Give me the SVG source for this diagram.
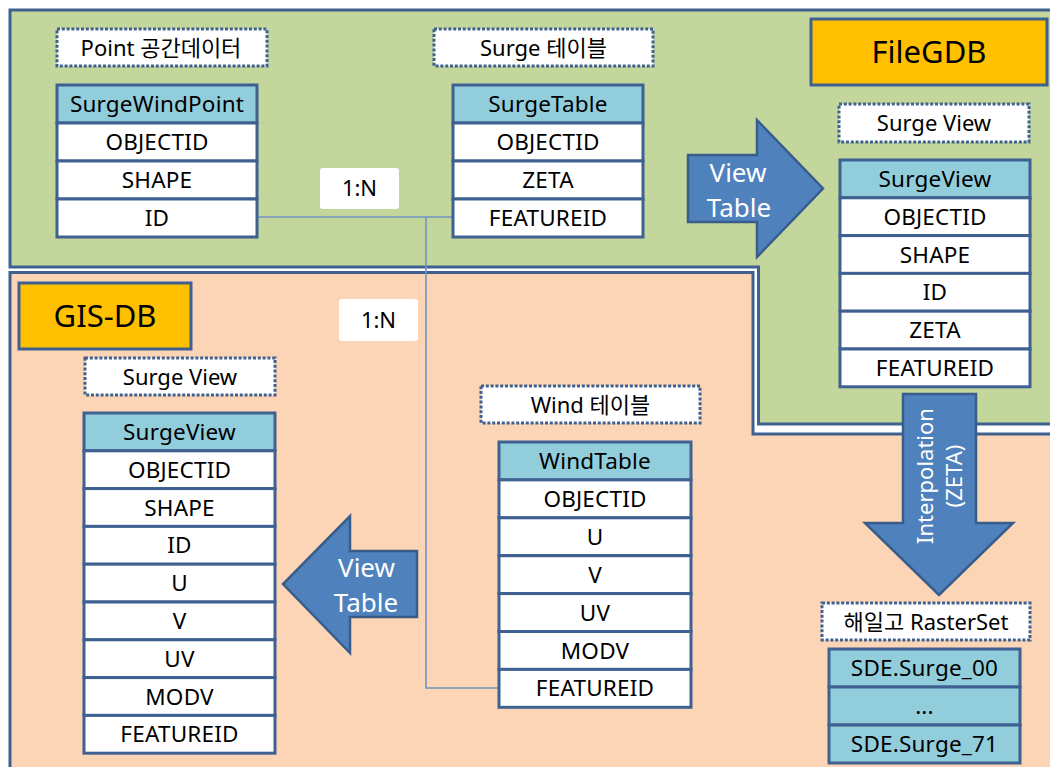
<svg xmlns="http://www.w3.org/2000/svg" width="1050" height="767" viewBox="0 0 1050 767">
  <style>
    text { font-family: "Noto Sans", "Noto Sans CJK KR", sans-serif; fill: #000; }
    .region { stroke: #3f6191; stroke-width: 3; }
    .green { fill: #c3d69b; }
    .peach { fill: #fbd5b5; }
    .title { fill: #ffc000; stroke: #3f6191; stroke-width: 3; }
    .title-text { font-size: 31px; text-anchor: middle; }
    .tag { fill: #fff; stroke: #3f6191; stroke-width: 3; stroke-dasharray: 3 1.8; }
    .tag-text { font-size: 22px; text-anchor: middle; }
    .row { fill: #fff; stroke: #3f6191; stroke-width: 3; }
    .head { fill: #92cddc; stroke: #3f6191; stroke-width: 3; }
    .cell { font-size: 22.5px; text-anchor: middle; letter-spacing: 0.2px; }
    .arrow { fill: #4f81bd; stroke: #385d8a; stroke-width: 2.5; stroke-linejoin: miter; }
    .arrow-text { font-size: 26px; fill: #fff; text-anchor: middle; }
    .interp-text { font-size: 22px; fill: #fff; text-anchor: middle; }
    .link { fill: none; stroke: #7093c3; stroke-width: 1.6; }
    .card { fill: #fff; }
    .card-text { font-size: 22px; text-anchor: middle; }
  </style>

  <rect x="0" y="0" width="1050" height="767" fill="#fff"/>

  <!-- FileGDB area (L-shaped) -->
  <g id="area-filegdb">
    <path class="region green" d="M10,10 H1056 V424 H758.5 V267 H10 Z"/>
  </g>

  <!-- GIS-DB area -->
  <g id="area-gisdb">
    <path class="region peach" d="M10,272.5 H753 V434 H1056 V775 H10 Z"/>
  </g>

  <!-- relationship lines -->
  <g id="connectors">
    <path class="link" d="M257,217 H453"/>
    <path class="link" d="M426,217 V688 H499"/>
  </g>

  <g id="rel-label-1">
    <rect class="card" x="320" y="168" width="79" height="41" rx="3"/>
    <text class="card-text" x="359.5" y="196">1:N</text>
  </g>
  <g id="rel-label-2">
    <rect class="card" x="339" y="299" width="79" height="42" rx="3"/>
    <text class="card-text" x="378.5" y="328">1:N</text>
  </g>

  <!-- database titles -->
  <g id="title-filegdb">
    <rect class="title" x="811" y="19" width="236" height="66"/>
    <text class="title-text" x="929" y="63">FileGDB</text>
  </g>
  <g id="title-gisdb">
    <rect class="title" x="19" y="283" width="172" height="66"/>
    <text class="title-text" x="105" y="327">GIS-DB</text>
  </g>

  <!-- dotted captions -->
  <g id="tag-point">
    <rect class="tag" x="57" y="29" width="210" height="37"/>
    <text class="tag-text" x="161" y="55.5">Point 공간데이터</text>
  </g>
  <g id="tag-surge-table">
    <rect class="tag" x="434" y="29" width="219" height="37"/>
    <text class="tag-text" x="543.5" y="55.5">Surge 테이블</text>
  </g>
  <g id="tag-surge-view-fgdb">
    <rect class="tag" x="839" y="104" width="190" height="38"/>
    <text class="tag-text" x="934" y="130.5">Surge View</text>
  </g>
  <g id="tag-surge-view-gis">
    <rect class="tag" x="85" y="358" width="190" height="37"/>
    <text class="tag-text" x="180" y="384.5">Surge View</text>
  </g>
  <g id="tag-wind-table">
    <rect class="tag" x="481" y="386" width="219" height="37"/>
    <text class="tag-text" x="590.5" y="412.5">Wind 테이블</text>
  </g>
  <g id="tag-rasterset">
    <rect class="tag" x="822" y="603" width="208" height="37"/>
    <text class="tag-text" x="926" y="629.5">해일고 RasterSet</text>
  </g>

  <!-- SurgeWindPoint -->
  <g id="table-surgewindpoint">
    <rect class="head" x="57" y="85" width="200" height="38"/>
    <rect class="row" x="57" y="123" width="200" height="38"/>
    <rect class="row" x="57" y="161" width="200" height="38"/>
    <rect class="row" x="57" y="199" width="200" height="38"/>
    <text class="cell" x="157" y="112">SurgeWindPoint</text>
    <text class="cell" x="157" y="150">OBJECTID</text>
    <text class="cell" x="157" y="188">SHAPE</text>
    <text class="cell" x="157" y="226">ID</text>
  </g>

  <!-- SurgeTable -->
  <g id="table-surgetable">
    <rect class="head" x="453" y="85" width="190" height="38"/>
    <rect class="row" x="453" y="123" width="190" height="38"/>
    <rect class="row" x="453" y="161" width="190" height="38"/>
    <rect class="row" x="453" y="199" width="190" height="38"/>
    <text class="cell" x="548" y="112">SurgeTable</text>
    <text class="cell" x="548" y="150">OBJECTID</text>
    <text class="cell" x="548" y="188">ZETA</text>
    <text class="cell" x="548" y="226">FEATUREID</text>
  </g>

  <!-- SurgeView in FileGDB -->
  <g id="table-surgeview-fgdb">
    <rect class="head" x="840" y="160" width="190" height="37.8"/>
    <rect class="row" x="840" y="197.8" width="190" height="37.8"/>
    <rect class="row" x="840" y="235.6" width="190" height="37.8"/>
    <rect class="row" x="840" y="273.4" width="190" height="37.8"/>
    <rect class="row" x="840" y="311.2" width="190" height="37.8"/>
    <rect class="row" x="840" y="349" width="190" height="37.8"/>
    <text class="cell" x="935" y="187">SurgeView</text>
    <text class="cell" x="935" y="224.7">OBJECTID</text>
    <text class="cell" x="935" y="262.5">SHAPE</text>
    <text class="cell" x="935" y="300.3">ID</text>
    <text class="cell" x="935" y="338.1">ZETA</text>
    <text class="cell" x="935" y="375.9">FEATUREID</text>
  </g>

  <!-- SurgeView in GIS-DB -->
  <g id="table-surgeview-gis">
    <rect class="head" x="84" y="413" width="191" height="37.8"/>
    <rect class="row" x="84" y="450.8" width="191" height="37.8"/>
    <rect class="row" x="84" y="488.6" width="191" height="37.8"/>
    <rect class="row" x="84" y="526.4" width="191" height="37.8"/>
    <rect class="row" x="84" y="564.2" width="191" height="37.8"/>
    <rect class="row" x="84" y="602" width="191" height="37.8"/>
    <rect class="row" x="84" y="639.8" width="191" height="37.8"/>
    <rect class="row" x="84" y="677.6" width="191" height="37.8"/>
    <rect class="row" x="84" y="715.4" width="191" height="37.8"/>
    <text class="cell" x="179.5" y="440">SurgeView</text>
    <text class="cell" x="179.5" y="477.7">OBJECTID</text>
    <text class="cell" x="179.5" y="515.5">SHAPE</text>
    <text class="cell" x="179.5" y="553.3">ID</text>
    <text class="cell" x="179.5" y="591.1">U</text>
    <text class="cell" x="179.5" y="628.9">V</text>
    <text class="cell" x="179.5" y="666.7">UV</text>
    <text class="cell" x="179.5" y="704.5">MODV</text>
    <text class="cell" x="179.5" y="742.3">FEATUREID</text>
  </g>

  <!-- WindTable -->
  <g id="table-windtable">
    <rect class="head" x="499" y="442" width="192" height="37.9"/>
    <rect class="row" x="499" y="479.9" width="192" height="37.9"/>
    <rect class="row" x="499" y="517.8" width="192" height="37.9"/>
    <rect class="row" x="499" y="555.7" width="192" height="37.9"/>
    <rect class="row" x="499" y="593.6" width="192" height="37.9"/>
    <rect class="row" x="499" y="631.5" width="192" height="37.9"/>
    <rect class="row" x="499" y="669.4" width="192" height="37.9"/>
    <text class="cell" x="595" y="469">WindTable</text>
    <text class="cell" x="595" y="506.9">OBJECTID</text>
    <text class="cell" x="595" y="544.8">U</text>
    <text class="cell" x="595" y="582.7">V</text>
    <text class="cell" x="595" y="620.6">UV</text>
    <text class="cell" x="595" y="658.5">MODV</text>
    <text class="cell" x="595" y="696.4">FEATUREID</text>
  </g>

  <!-- raster set -->
  <g id="table-rasterset">
    <rect class="head" x="829" y="649" width="191" height="38"/>
    <rect class="head" x="829" y="687" width="191" height="38"/>
    <rect class="head" x="829" y="725" width="191" height="38"/>
    <text class="cell" x="924.5" y="676">SDE.Surge_00</text>
    <text class="cell" x="924.5" y="714">...</text>
    <text class="cell" x="924.5" y="752">SDE.Surge_71</text>
  </g>

  <!-- block arrows -->
  <g id="arrow-view-fgdb">
    <polygon class="arrow" points="688,155 757,155 757,120 823,188.5 757,257 757,222 688,222"/>
    <text class="arrow-text" x="738" y="182">View</text>
    <text class="arrow-text" x="739" y="217">Table</text>
  </g>
  <g id="arrow-view-gis">
    <polygon class="arrow" points="417,551 350,551 350,516 283,584 350,653 350,617 417,617"/>
    <text class="arrow-text" x="366.5" y="577">View</text>
    <text class="arrow-text" x="366" y="612">Table</text>
  </g>
  <g id="arrow-interpolation">
    <polygon class="arrow" points="903,394 976,394 976,523 1013,523 939,595 865,523 903,523"/>
    <text class="interp-text" transform="translate(933,476) rotate(-90)">Interpolation</text>
    <text class="interp-text" transform="translate(962,476) rotate(-90)">(ZETA)</text>
  </g>
</svg>
